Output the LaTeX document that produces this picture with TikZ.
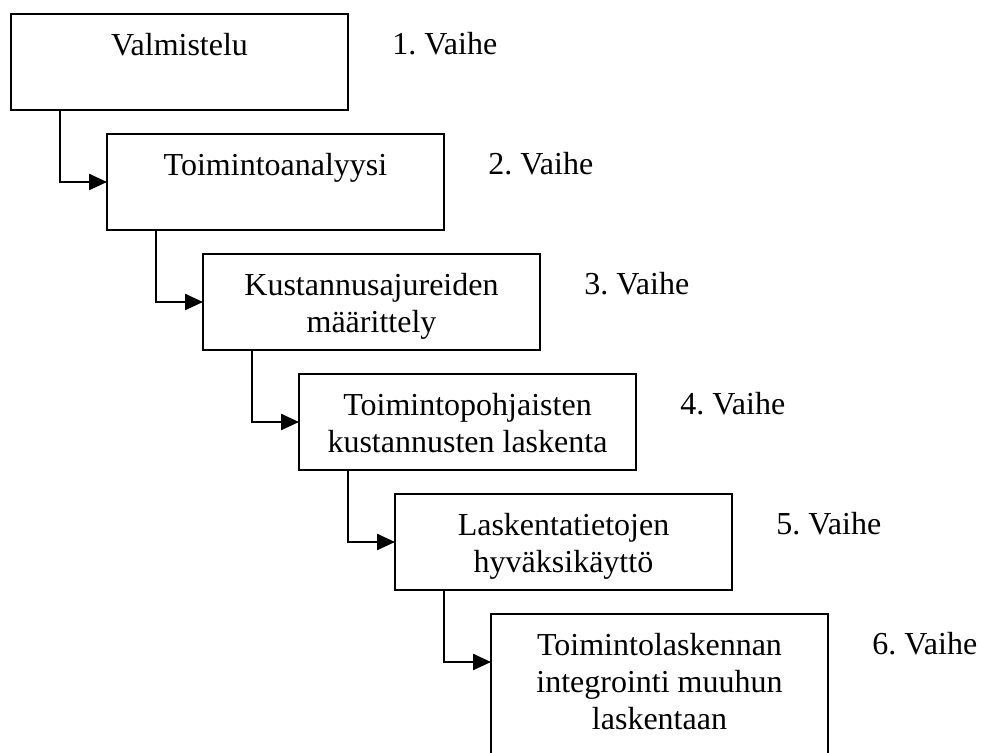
\documentclass[tikz,border=0pt]{standalone}
\usepackage{fontspec}
\setmainfont{Liberation Serif}
\frenchspacing
\usetikzlibrary{arrows.meta}
\begin{document}
\begin{tikzpicture}[x=0.5pt,y=-0.5pt,
  stepbox/.style={draw, line width=1.2pt, rectangle, minimum width=168.5pt,
    minimum height=48pt, outer sep=0pt, inner sep=0pt, anchor=north west},
  boxtext/.style={anchor=north, align=center, inner sep=0pt,
    font=\fontsize{16pt}{18.5pt}\selectfont},
  phase/.style={anchor=base west, inner sep=0pt,
    font=\fontsize{16pt}{18.5pt}\selectfont},
  flow/.style={line width=1.2pt, -{Triangle[length=9pt,width=8pt]}}]

\useasboundingbox (0,0) rectangle (981,753);
\clip (0,0) rectangle (981,753);

% the six phase boxes, stepping down and to the right
\node[stepbox] (b1) at (11,14) {};
\node[stepbox] (b2) at (107,134) {};
\node[stepbox] (b3) at (203,254) {};
\node[stepbox] (b4) at (299,374) {};
\node[stepbox] (b5) at (395,494) {};
\node[stepbox, minimum height=75pt] (b6) at (491,614) {};

% box texts, set from the top of each box
\node[boxtext] (t1) at (b1.north) {\rule{0pt}{20.5pt}Valmistelu};
\node[boxtext] (t2) at (b2.north) {\rule{0pt}{20.5pt}Toimintoanalyysi};
\node[boxtext] (t3) at (b3.north) {\rule{0pt}{20.5pt}Kustannusajureiden\\määrittely};
\node[boxtext] (t4) at (b4.north) {\rule{0pt}{20.5pt}Toimintopohjaisten\\kustannusten laskenta};
\node[boxtext] (t5) at (b5.north) {\rule{0pt}{20.5pt}Laskentatietojen\\hyväksikäyttö};
\node[boxtext] (t6) at (b6.north) {\rule{0pt}{20.5pt}Toimintolaskennan\\integrointi muuhun\\laskentaan};

% phase numbers beside the boxes
\node[phase] (v1) at ([xshift=22pt,yshift=-20.5pt]b1.north east) {1. Vaihe};
\node[phase] (v2) at ([xshift=22pt,yshift=-20.5pt]b2.north east) {2. Vaihe};
\node[phase] (v3) at ([xshift=22pt,yshift=-20.5pt]b3.north east) {3. Vaihe};
\node[phase] (v4) at ([xshift=22pt,yshift=-20.5pt]b4.north east) {4. Vaihe};
\node[phase] (v5) at ([xshift=22pt,yshift=-20.5pt]b5.north east) {5. Vaihe};
\node[phase] (v6) at ([xshift=22pt,yshift=-20.5pt]b6.north east) {6. Vaihe};

% elbow arrows from each box to the next
\draw[flow] ([xshift=24.5pt]b1.south west) |- ([yshift=-24pt]b2.north west);
\draw[flow] ([xshift=24.5pt]b2.south west) |- ([yshift=-24pt]b3.north west);
\draw[flow] ([xshift=24.5pt]b3.south west) |- ([yshift=-24pt]b4.north west);
\draw[flow] ([xshift=24.5pt]b4.south west) |- ([yshift=-24pt]b5.north west);
\draw[flow] ([xshift=24.5pt]b5.south west) |- ([yshift=-24pt]b6.north west);
\end{tikzpicture}
\end{document}
